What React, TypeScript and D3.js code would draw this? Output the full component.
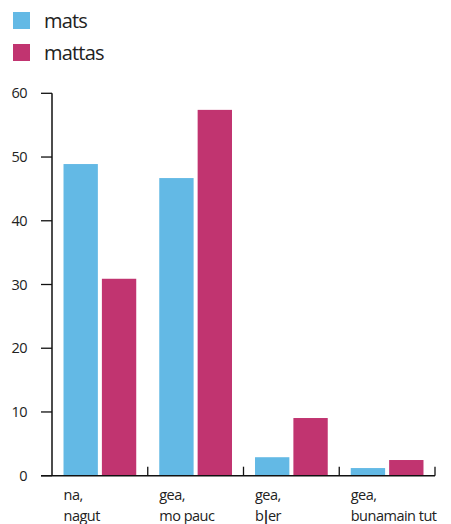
import React from "react";
import * as d3 from "d3";

const categories = ["na,|nagut", "gea,|mo pauc", "gea,|b|er", "gea,|bunamain tut"];
const seriesNames = ["mats", "mattas"];
const matsValues = [48.9, 46.7, 2.9, 1.2];
const mattasValues = [30.9, 57.4, 9.05, 2.46];
const yTicks = [0, 10, 20, 30, 40, 50, 60];
const colors = ["#63b9e5", "#c13470"];

export default function App() {
  const W = 451, H = 524;
  const x0 = 52, x1 = 435, yBottom = 475.7, yTop = 93.3;
  const x = d3.scaleBand<string>().domain(categories).range([x0, x1]).padding(0);
  const xs = d3.scaleBand<string>().domain(seriesNames).range([0, x.bandwidth()]).paddingInner(0.105).paddingOuter(0.3);
  const y = d3.scaleLinear().domain([0, 60]).range([yBottom, yTop]);
  const series = [matsValues, mattasValues];
  const font = "'Open Sans', 'Noto Sans', sans-serif";
  const textColor = "#222";

  const renderLabel = (cat: string) => {
    const parts = cat.split("|");
    const line1 = parts[0];
    const rest = parts.slice(1);
    const bx = (x(cat) as number) + (xs(seriesNames[0]) as number);
    return (
      <text key={cat} x={bx} y={500} fontSize={14.5} letterSpacing={-0.5} fill={textColor} fontFamily={font}>
        <tspan x={bx}>{line1}</tspan>
        <tspan x={bx} dy={21}>
          {rest.length === 2 ? (
            <>
              {rest[0]}
              <tspan fontWeight="bold" dx={-1.5}>|</tspan>
              <tspan dx={-1.5}>{rest[1]}</tspan>
            </>
          ) : (
            rest[0]
          )}
        </tspan>
      </text>
    );
  };

  return (
    <svg width={W} height={H} style={{ position: "absolute", left: 0, top: 0 }}>
      <rect width={W} height={H} fill="#fff" />
      {/* legend */}
      {seriesNames.map((s, i) => (
        <g key={s}>
          <rect x={13} y={12 + i * 32} width={17} height={17} fill={colors[i]} />
          <text x={44} y={28 + i * 32} fontSize={20} letterSpacing={-0.8} fill={textColor} fontFamily={font}>{s}</text>
        </g>
      ))}
      {/* bars */}
      {categories.map((c, ci) => (
        <g key={c}>
          {seriesNames.map((s, si) => (
            <rect
              key={s}
              x={(x(c) as number) + (xs(s) as number)}
              y={y(series[si][ci])}
              width={xs.bandwidth()}
              height={yBottom - y(series[si][ci])}
              fill={colors[si]}
            />
          ))}
        </g>
      ))}
      {/* y axis */}
      <line x1={x0} x2={x0} y1={yTop} y2={yBottom} stroke="#111" strokeWidth={1.5} />
      {yTicks.map((t) => (
        <g key={t}>
          <line x1={41} x2={x0} y1={y(t)} y2={y(t)} stroke="#111" strokeWidth={1.3} />
          <text x={27} y={y(t) + 5} textAnchor="end" fontSize={14.5} letterSpacing={-0.5} fill={textColor} fontFamily={font}>{t}</text>
        </g>
      ))}
      {/* x axis */}
      <line x1={41} x2={x1} y1={yBottom} y2={yBottom} stroke="#111" strokeWidth={1.5} />
      {categories.map((c) => (
        <line key={c} x1={(x(c) as number) + x.bandwidth()} x2={(x(c) as number) + x.bandwidth()} y1={yBottom - 9} y2={yBottom} stroke="#111" strokeWidth={1.3} />
      ))}
      {categories.map(renderLabel)}
    </svg>
  );
}
